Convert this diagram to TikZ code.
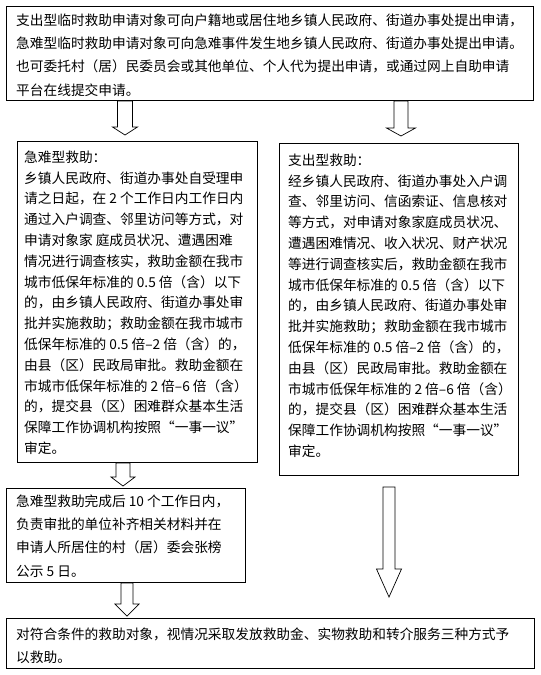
\documentclass[tikz,border=0pt]{standalone}
\usepackage{fontspec}
\newfontfamily\cjk{Noto Sans CJK SC}
\newcommand\blockarr[6]{% cx, ytop, yhead, ytip, shaft half, head half
  \draw[blk] (#1-#5,#2) -- (#1+#5,#2) -- (#1+#5,#3) -- (#1+#6,#3) -- (#1,#4) -- (#1-#6,#3) -- (#1-#5,#3) -- cycle;}
\begin{document}
\begin{tikzpicture}[x=1pt,y=-1pt,
  box/.style={draw,line width=0.9pt,anchor=north west,inner sep=0pt},
  txt/.style={anchor=north west,inner sep=0pt,align=left,font=\cjk\fontsize{13.7}{23.3}\selectfont},
  txtn/.style={anchor=north west,inner sep=0pt,align=left,font=\cjk\fontsize{13.7}{20.8}\selectfont},
  blk/.style={draw,line width=0.7pt,fill=white,line join=miter}]
\useasboundingbox[fill=white] (0,0) rectangle (541,675);

\node[box,minimum width=527pt,minimum height=94pt] (top) at (6,6) {};
\node[box,minimum width=240pt,minimum height=321pt] (left) at (17,141) {};
\node[box,minimum width=239pt,minimum height=332pt] (right) at (279,143) {};
\node[box,minimum width=239pt,minimum height=94pt] (mid) at (6,488) {};
\node[box,minimum width=528pt,minimum height=50pt] (bottom) at (6,618) {};

\node[txt] (toptext) at (16,13.5) {支出型临时救助申请对象可向户籍地或居住地乡镇人民政府、街道办事处提出申请，\\
急难型临时救助申请对象可向急难事件发生地乡镇人民政府、街道办事处提出申请。\\
也可委托村（居）民委员会或其他单位、个人代为提出申请，或通过网上自助申请\\
平台在线提交申请。};

\node[txtn] (lefttext) at (24,150.5) {急难型救助：\\
乡镇人民政府、街道办事处自受理申\\
请之日起，在 2 个工作日内工作日内\\
通过入户调查、邻里访问等方式，对\\
申请对象家 庭成员状况、遭遇困难\\
情况进行调查核实，救助金额在我市\\
城市低保年标准的 0.5 倍（含）以下\\
的，由乡镇人民政府、街道办事处审\\
批并实施救助；救助金额在我市城市\\
低保年标准的 0.5 倍–2 倍（含）的，\\
由县（区）民政局审批。救助金额在\\
市城市低保年标准的 2 倍–6 倍（含）\\
的，提交县（区）困难群众基本生活\\
保障工作协调机构按照“一事一议”\\
审定。};

\node[txtn] (righttext) at (288,153.5) {支出型救助：\\
经乡镇人民政府、街道办事处入户调\\
查、邻里访问、信函索证、信息核对\\
等方式，对申请对象家庭成员状况、\\
遭遇困难情况、收入状况、财产状况\\
等进行调查核实后，救助金额在我市\\
城市低保年标准的 0.5 倍（含）以下\\
的，由乡镇人民政府、街道办事处审\\
批并实施救助；救助金额在我市城市\\
低保年标准的 0.5 倍–2 倍（含）的，\\
由县（区）民政局审批。救助金额在\\
市城市低保年标准的 2 倍–6 倍（含）\\
的，提交县（区）困难群众基本生活\\
保障工作协调机构按照“一事一议”\\
审定。};

\node[txt] (midtext) at (16,494.5) {急难型救助完成后 10 个工作日内，\\
负责审批的单位补齐相关材料并在\\
申请人所居住的村（居）委会张榜\\
公示 5 日。};

\node[txt] (bottomtext) at (16,627.5) {对符合条件的救助对象，视情况采取发放救助金、实物救助和转介服务三种方式予\\
以救助。};

\blockarr{125}{101}{127}{135}{7.5}{12.5}
\blockarr{401}{101}{128}{136}{7}{14.5}
\blockarr{123}{463}{477}{486}{7}{12}
\blockarr{127}{583}{604}{616}{6}{12}
\blockarr{389}{487}{569}{597}{6}{12.5}
\end{tikzpicture}
\end{document}
